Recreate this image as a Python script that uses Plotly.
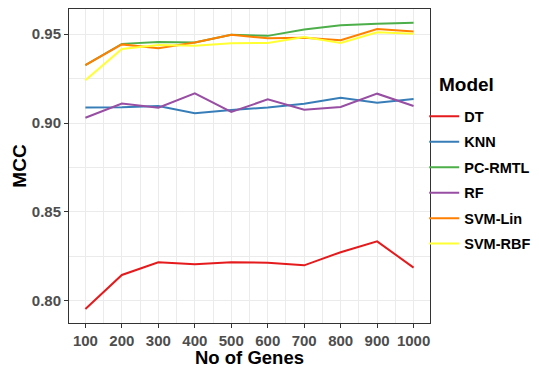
import plotly.graph_objects as go

genes = [100, 200, 300, 400, 500, 600, 700, 800, 900, 1000]

dt = [0.7955, 0.8146, 0.8217, 0.8206, 0.8217, 0.8215, 0.8200, 0.8274, 0.8335, 0.8187]
knn = [0.9088, 0.9089, 0.9096, 0.9055, 0.9073, 0.9088, 0.9108, 0.9142, 0.9114, 0.9135]
pc_rmtl = [0.9326, 0.9445, 0.9455, 0.9453, 0.9496, 0.9490, 0.9526, 0.9550, 0.9558, 0.9564]
rf = [0.9030, 0.9110, 0.9086, 0.9167, 0.9062, 0.9133, 0.9075, 0.9090, 0.9165, 0.9096]
svm_lin = [0.9326, 0.9442, 0.9420, 0.9453, 0.9496, 0.9476, 0.9480, 0.9466, 0.9528, 0.9515]
svm_rbf = [0.9240, 0.9416, 0.9438, 0.9434, 0.9448, 0.9450, 0.9483, 0.9450, 0.9510, 0.9502]

series_names = ["DT", "KNN", "PC-RMTL", "RF", "SVM-Lin", "SVM-RBF"]
series_values = [dt, knn, pc_rmtl, rf, svm_lin, svm_rbf]
colors = ["#E41A1C", "#377EB8", "#4DAF4A", "#984EA3", "#FF7F00", "#FFFF33"]

y_ticks = [0.80, 0.85, 0.90, 0.95]
y_tick_labels = ["0.80", "0.85", "0.90", "0.95"]

fig = go.Figure()
for name, vals, col in zip(series_names, series_values, colors):
    fig.add_trace(go.Scatter(x=genes, y=vals, mode="lines", name=name,
                             legendgroup=name,
                             line=dict(color=col, width=2)))

font_family = "Liberation Sans, Arial, sans-serif"
# page has an 8px body margin, so the figure origin sits at (8, 8)
fig.update_layout(
    width=539, height=368,
    margin=dict(l=61, r=117, t=1, b=53, autoexpand=False),
    paper_bgcolor="white", plot_bgcolor="white",
    font=dict(family=font_family),
    showlegend=True,
    legend=dict(
        font=dict(size=14.5, color="black", weight="bold"),
        x=0.984, xanchor="left", y=0.454, yanchor="middle",
        bgcolor="rgba(0,0,0,0)",
        itemwidth=30,
        tracegroupgap=3.6,
        traceorder="grouped",
    ),
    annotations=[
        dict(text="<b>Model</b>", xref="paper", yref="paper",
             x=1.02, y=(315 - 77) / 314, xanchor="left", yanchor="middle",
             showarrow=False, font=dict(size=19, color="black")),
        dict(text="<b>No of Genes</b>", xref="paper", yref="paper",
             x=0.5, y=(315 - 349.5) / 314, xanchor="center", yanchor="middle",
             showarrow=False, borderpad=0, font=dict(size=18.5, color="black")),
    ],
)

axis_common = dict(
    showline=True, linecolor="#333333", linewidth=1, mirror=True,
    showgrid=True, gridcolor="#EBEBEB", gridwidth=1.2,
    ticks="outside", ticklen=4, tickcolor="#333333", tickwidth=1,
    tickfont=dict(size=15, color="#4D4D4D", weight="bold"),
    zeroline=False,
)

fig.update_xaxes(
    **axis_common,
    range=[55, 1045],
    tickvals=genes,
    ticktext=[str(g) for g in genes],
    minor=dict(tickvals=[150, 250, 350, 450, 550, 650, 750, 850, 950],
               showgrid=True, gridcolor="#EBEBEB", gridwidth=0.7, ticks=""),
)
fig.update_yaxes(
    **axis_common,
    range=[0.7876, 0.9641],
    tickvals=y_ticks,
    ticktext=y_tick_labels,
    minor=dict(tickvals=[0.825, 0.875, 0.925],
               showgrid=True, gridcolor="#EBEBEB", gridwidth=0.7, ticks=""),
    title=dict(text="<b>MCC</b>", font=dict(size=19, color="black"), standoff=0),
)

fig.write_html("out.html")
